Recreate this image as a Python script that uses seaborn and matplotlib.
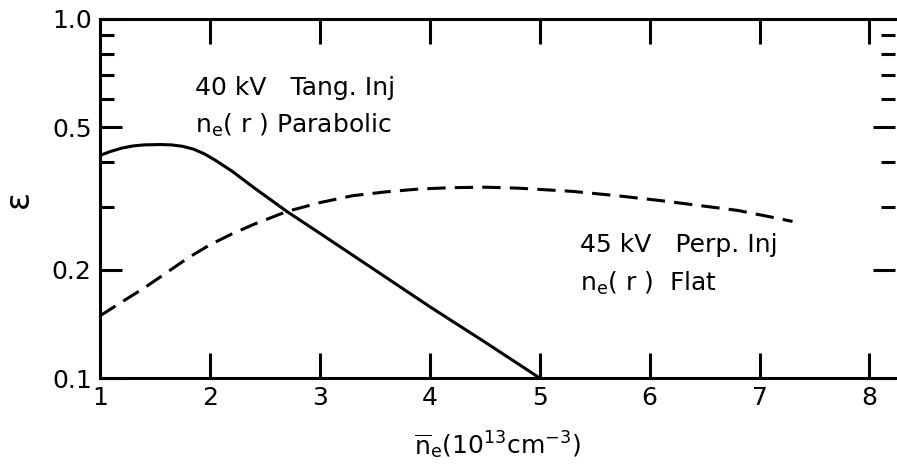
import numpy as np
import pandas as pd
import matplotlib
matplotlib.use("Agg")
import matplotlib.pyplot as plt
from matplotlib.ticker import FixedLocator, FixedFormatter, NullFormatter
import seaborn as sns

# Injection efficiency vs. line-averaged density
density_tang = [1.0, 1.1, 1.2, 1.3, 1.4, 1.55, 1.65, 1.75, 1.85, 1.95, 2.05,
                2.2, 2.4, 2.7, 3.0, 3.5, 4.0, 4.5, 5.0]
eff_tang = [0.417, 0.428, 0.437, 0.443, 0.446, 0.447, 0.446, 0.442, 0.434,
            0.421, 0.404, 0.377, 0.339, 0.291, 0.253, 0.200, 0.158, 0.126,
            0.100]

density_perp = [1.0, 1.2, 1.4, 1.6, 1.8, 2.0, 2.2, 2.4, 2.7, 3.0, 3.3, 3.6,
                3.9, 4.2, 4.5, 4.8, 5.3, 5.7, 6.1, 6.5, 6.8, 7.1, 7.3]
eff_perp = [0.149, 0.163, 0.178, 0.196, 0.216, 0.235, 0.252, 0.268, 0.291,
            0.308, 0.322, 0.330, 0.336, 0.339, 0.340, 0.338, 0.331, 0.322,
            0.312, 0.301, 0.293, 0.281, 0.273]

x_ticks = [1, 2, 3, 4, 5, 6, 7, 8]
y_major = [0.1, 0.2, 0.5, 1.0]
y_major_labels = ["0.1", "0.2", "0.5", "1.0"]
y_minor = [0.3, 0.4, 0.6, 0.7, 0.8, 0.9]

sns.set_style("ticks")
plt.rcParams["font.family"] = ["DejaVu Sans"]
plt.rcParams["mathtext.fontset"] = "dejavusans"
for key in ["text.color", "axes.labelcolor", "xtick.color", "ytick.color",
            "axes.edgecolor"]:
    plt.rcParams[key] = "black"

df = pd.concat([
    pd.DataFrame({"n": density_tang, "eps": eff_tang, "case": "tang"}),
    pd.DataFrame({"n": density_perp, "eps": eff_perp, "case": "perp"}),
])

fig = plt.figure(figsize=(8.97, 4.69), dpi=100)
ax = fig.add_axes([0.1115, 0.194, 0.886, 0.7655])

sns.lineplot(data=df, x="n", y="eps", hue="case", style="case",
             palette={"tang": "black", "perp": "black"},
             dashes={"tang": "", "perp": (6, 3)},
             linewidth=2.2, sort=False, estimator=None, legend=False, ax=ax)

ax.set_yscale("log")
ax.set_xlim(1, 8.23)
ax.set_ylim(0.1, 1.0)

ax.xaxis.set_major_locator(FixedLocator(x_ticks))
ax.yaxis.set_major_locator(FixedLocator(y_major))
ax.yaxis.set_major_formatter(FixedFormatter(y_major_labels))
ax.yaxis.set_minor_locator(FixedLocator(y_minor))
ax.yaxis.set_minor_formatter(NullFormatter())
ax.xaxis.set_minor_locator(FixedLocator([]))

ax.tick_params(axis="both", which="major", direction="in", top=True, right=True,
               length=16, width=2.2, labelsize=18, pad=6)
ax.tick_params(axis="y", which="minor", direction="in", right=True,
               length=10, width=2.2)
ax.tick_params(axis="x", which="major", length=18)

for side in ["left", "bottom", "top"]:
    ax.spines[side].set_linewidth(2.2)
ax.spines["right"].set_visible(False)

ax.set_xlabel(r"$\overline{\mathrm{n}}_{\mathrm{e}}(10^{13}\mathrm{cm}^{-3})$",
              fontsize=18, labelpad=14)
ax.set_ylabel("ε", fontsize=24, rotation=90)
ax.yaxis.set_label_coords(-0.082, 0.5)

ax.text(1.86, 0.642, "40 kV   Tang. Inj", fontsize=18, va="center", ha="left")
ax.text(1.86, 0.506, r"n$_{\mathrm{e}}$( r ) Parabolic", fontsize=18,
        va="center", ha="left")
ax.text(5.37, 0.234, "45 kV   Perp. Inj", fontsize=18, va="center", ha="left")
ax.text(5.37, 0.184, r"n$_{\mathrm{e}}$( r )  Flat", fontsize=18,
        va="center", ha="left")

fig.savefig("out.png", dpi=100, facecolor="white")
